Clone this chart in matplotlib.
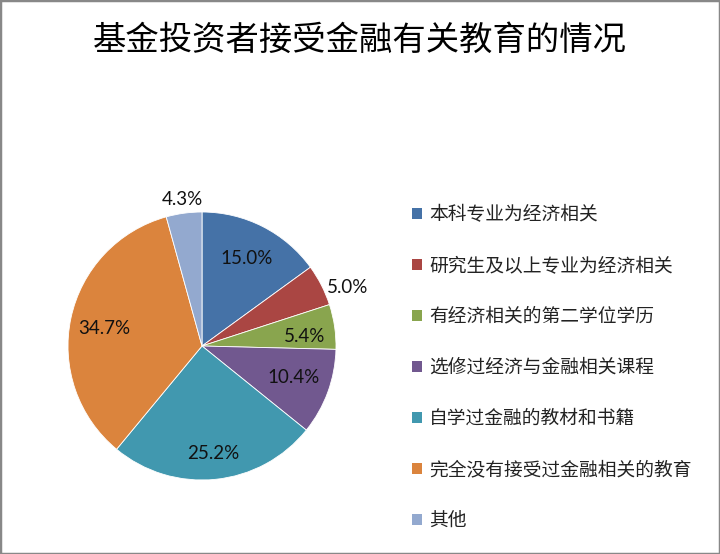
import matplotlib
matplotlib.use("Agg")
import matplotlib.pyplot as plt
import numpy as np
from matplotlib.patches import Rectangle, Patch

plt.rcParams['font.family'] = ['Noto Sans CJK SC', 'DejaVu Sans']

title = "基金投资者接受金融有关教育的情况"
categories = ["本科专业为经济相关", "研究生及以上专业为经济相关", "有经济相关的第二学位学历",
              "选修过经济与金融相关课程", "自学过金融的教材和书籍", "完全没有接受过金融相关的教育", "其他"]
values = [15.0, 5.0, 5.4, 10.4, 25.2, 34.7, 4.3]
labels = ["15.0%", "5.0%", "5.4%", "10.4%", "25.2%", "34.7%", "4.3%"]

colors = ['#4572A7', '#AA4643', '#89A54E', '#71588F', '#4198AF', '#DB843D', '#93A9CF']
label_dist = [0.73, 1.17, 0.77, 0.72, 0.81, 0.74, 1.10]
label_shift = [0, -5, -3, 1, 0, 2, 0]  # angular nudge in degrees

W, H = 720, 554
fig = plt.figure(figsize=(W/100, H/100), dpi=100)
cx, cy, r = 202, 346, 134
ax = fig.add_axes([(cx - r)/W, (H - cy - r)/H, 2*r/W, 2*r/H])
wedges, _ = ax.pie(values, colors=colors, startangle=90, counterclock=False, radius=1,
                   wedgeprops=dict(edgecolor='white', linewidth=0.6))
ax.set_xlim(-1, 1); ax.set_ylim(-1, 1)
ax.set_aspect('equal')
ax.axis('off')

for w, lab, d, s in zip(wedges, labels, label_dist, label_shift):
    ang = np.deg2rad((w.theta1 + w.theta2)/2 + s)
    ax.text(d*np.cos(ang), d*np.sin(ang), lab, ha='center', va='center',
            fontsize=13.5, color='#111111', family=['Lato', 'DejaVu Sans'])

fig.text(0.5, 1 - 40/H, title, ha='center', va='center', fontsize=24, color='black')

handles = [Patch(facecolor=c, edgecolor='none') for c in colors]
fig.legend(handles, categories, loc='upper left', bbox_to_anchor=(412/W, 1 - 204/H),
           frameon=False, fontsize=13.5, handlelength=0.55, handleheight=0.55,
           handletextpad=0.35, labelspacing=1.6, borderaxespad=0, borderpad=0,
           labelcolor='#222222')

fig.patches.append(Rectangle((0, 0), 1, 1, transform=fig.transFigure, fill=False,
                             edgecolor='#888888', linewidth=2.5))
fig.savefig("out.png", dpi=100, facecolor='white')
